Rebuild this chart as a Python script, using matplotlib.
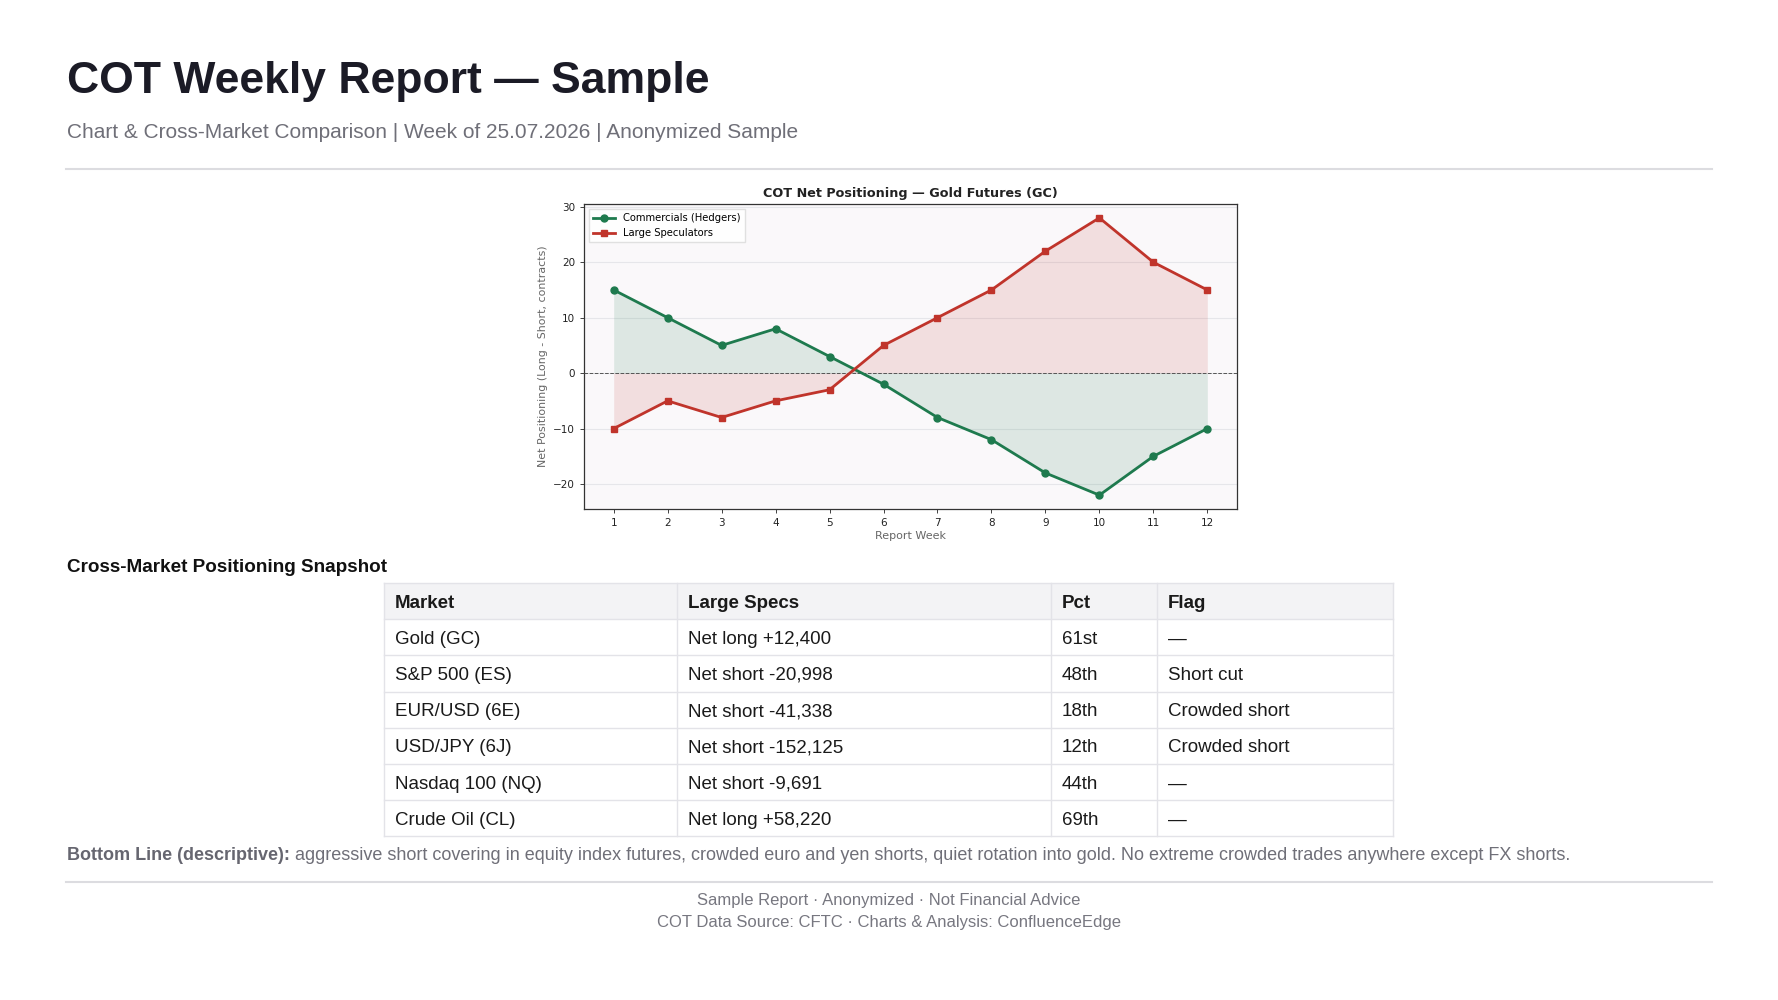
import numpy as np
import matplotlib.pyplot as plt
from matplotlib.patches import Rectangle

plt.rcParams['font.family'] = ['Liberation Sans', 'DejaVu Sans']

# --- Datos ---
weeks = [1, 2, 3, 4, 5, 6, 7, 8, 9, 10, 11, 12]
commercials = [15, 10, 5, 8, 3, -2, -8, -12, -18, -22, -15, -10]
large_specs = [-10, -5, -8, -5, -3, 5, 10, 15, 22, 28, 20, 15]

table_header = ['Market', 'Large Specs', 'Pct', 'Flag']
markets = ['Gold (GC)', 'S&P 500 (ES)', 'EUR/USD (6E)', 'USD/JPY (6J)',
           'Nasdaq 100 (NQ)', 'Crude Oil (CL)']
specs_text = ['Net long +12,400', 'Net short -20,998', 'Net short -41,338',
              'Net short -152,125', 'Net short -9,691', 'Net long +58,220']
pct = ['61st', '48th', '18th', '12th', '44th', '69th']
flags = ['\u2014', 'Short cut', 'Crowded short', 'Crowded short',
         '\u2014', '\u2014']

GREEN = '#1e7a4e'
RED = '#c0342b'

W, H = 1778, 1000
fig = plt.figure(figsize=(W / 100, H / 100), dpi=100, facecolor='white')

# capa de maquetación en píxeles
lay = fig.add_axes([0, 0, 1, 1])
lay.set_xlim(0, W)
lay.set_ylim(H, 0)
lay.axis('off')

lay.text(67, 82, 'COT Weekly Report \u2014 Sample', fontsize=32,
         fontweight='bold', color='#1b1b26', va='center', ha='left')
lay.text(67, 133, 'Chart & Cross-Market Comparison | Week of 25.07.2026 | Anonymized Sample',
         fontsize=15, color='#6f6f78', va='center', ha='left')
lay.plot([66, 1712], [169, 169], color='#dcdce0', lw=1.5)

# --- Gráfico ---
ax = fig.add_axes([584 / W, 1 - 509 / H, 653 / W, 305 / H])
ax.set_facecolor('#faf8fa')
ax.fill_between(weeks, commercials, 0, color=GREEN, alpha=0.13, lw=0)
ax.fill_between(weeks, large_specs, 0, color=RED, alpha=0.13, lw=0)
ax.plot(weeks, commercials, color=GREEN, lw=2, marker='o', ms=5,
        label='Commercials (Hedgers)', zorder=4)
ax.plot(weeks, large_specs, color=RED, lw=2, marker='s', ms=5,
        label='Large Speculators', zorder=4)
ax.axhline(0, color='#555555', lw=0.7, ls='--', zorder=3)
ax.grid(axis='y', color='#e6e6ea', lw=0.8)
ax.set_axisbelow(True)
ax.set_xticks(weeks)
ax.tick_params(labelsize=7.5, colors='#222222', length=3, width=0.6)
for sp in ax.spines.values():
    sp.set_color('#333333')
    sp.set_linewidth(0.9)
ax.set_title('COT Net Positioning \u2014 Gold Futures (GC)', fontsize=9.2,
             fontweight='bold', family='DejaVu Sans', color='#222222', pad=5)
ax.set_xlabel('Report Week', fontsize=8, family='DejaVu Sans', color='#666666', labelpad=2)
ax.set_ylabel('Net Positioning (Long - Short, contracts)', fontsize=7.9,
              family='DejaVu Sans', color='#666666', labelpad=4)
for lbl in ax.get_xticklabels() + ax.get_yticklabels():
    lbl.set_family('DejaVu Sans')
leg = ax.legend(loc='upper left', prop={'family': 'DejaVu Sans', 'size': 7.2},
                frameon=True, framealpha=0.9, edgecolor='#dddddd', fancybox=False,
                borderpad=0.4, handlelength=2.2)

# --- Tabla ---
lay.text(67, 568, 'Cross-Market Positioning Snapshot', fontsize=13.6,
         fontweight='bold', color='#111111', va='center', ha='left')

col_x = [384, 677, 1051, 1157, 1393]
row_top = 583
row_h = 36.2
rows = list(zip(markets, specs_text, pct, flags))
n_rows = len(rows) + 1
lay.add_patch(Rectangle((col_x[0], row_top), col_x[-1] - col_x[0], row_h,
                        facecolor='#f3f3f5', edgecolor='none'))
border = '#e3e3e8'
for i in range(n_rows + 1):
    y = row_top + i * row_h
    lay.plot([col_x[0], col_x[-1]], [y, y], color=border, lw=1)
for x in col_x:
    lay.plot([x, x], [row_top, row_top + n_rows * row_h], color=border, lw=1)

for j, h in enumerate(table_header):
    lay.text(col_x[j] + 11, row_top + row_h / 2 + 2, h, fontsize=13.5,
             fontweight='bold', color='#1a1a1a', va='center', ha='left')
for i, r in enumerate(rows):
    yc = row_top + (i + 1.5) * row_h + 2
    for j, val in enumerate(r):
        lay.text(col_x[j] + 11, yc, val, fontsize=13.5, color='#1a1a1a',
                 va='center', ha='left')

# --- Conclusión ---
bl = lay.text(67, 855, 'Bottom Line (descriptive): ', fontsize=13,
              fontweight='bold', color='#666670', va='center', ha='left')
fig.canvas.draw()
bb = bl.get_window_extent()
x_end = bb.x1
lay.annotate('aggressive short covering in equity index futures, crowded euro and yen shorts, '
             'quiet rotation into gold. No extreme crowded trades anywhere except FX shorts.',
             xy=(x_end, H - 855), xycoords='figure pixels', fontsize=13,
             color='#6f6f78', va='center', ha='left')

lay.plot([66, 1712], [882, 882], color='#dcdce0', lw=1.5)
lay.text(W / 2, 900, 'Sample Report \u00b7 Anonymized \u00b7 Not Financial Advice',
         fontsize=12, color='#777780', va='center', ha='center')
lay.text(W / 2, 922, 'COT Data Source: CFTC \u00b7 Charts & Analysis: ConfluenceEdge',
         fontsize=12, color='#777780', va='center', ha='center')

fig.savefig('out.png', dpi=100, facecolor='white')
